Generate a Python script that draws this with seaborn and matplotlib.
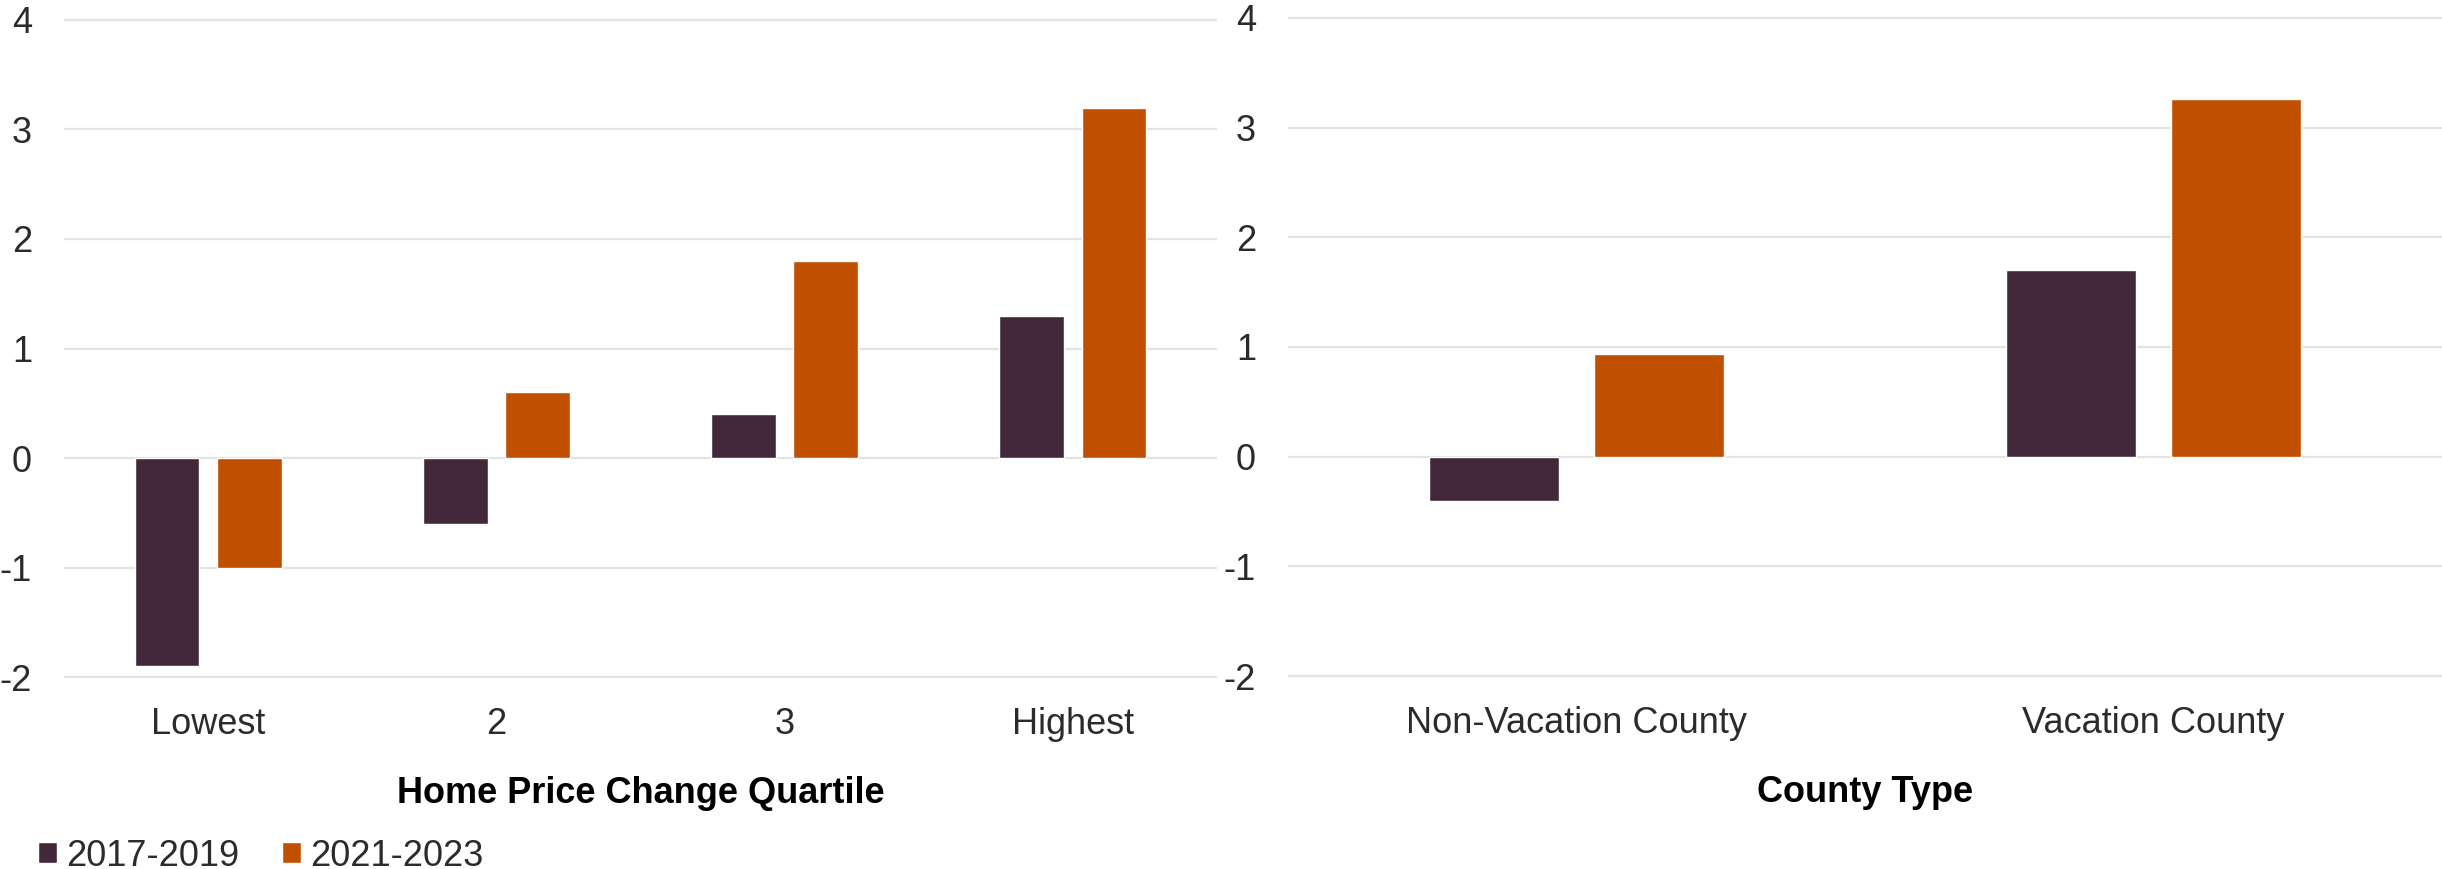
import matplotlib
matplotlib.use("Agg")
import matplotlib.pyplot as plt
import seaborn as sns
import pandas as pd

# Data
periods = ["2017-2019", "2021-2023"]

quartiles = ["Lowest", "2", "3", "Highest"]
quartile_2017_2019 = [-1.9, -0.6, 0.4, 1.3]
quartile_2021_2023 = [-1.0, 0.6, 1.8, 3.2]

county_types = ["Non-Vacation County", "Vacation County"]
county_2017_2019 = [-0.4, 1.7]
county_2021_2023 = [0.94, 3.26]

y_ticks = [-2, -1, 0, 1, 2, 3, 4]

palette = {"2017-2019": "#43283C", "2021-2023": "#C14F00"}
text_color = "#2b2b2b"
grid_color = "#e3e3e3"
FS = 26


def long_frame(cats, a, b):
    return pd.DataFrame({
        "category": cats * 2,
        "period": [periods[0]] * len(cats) + [periods[1]] * len(cats),
        "value": list(a) + list(b),
    })


df_q = long_frame(quartiles, quartile_2017_2019, quartile_2021_2023)
df_c = long_frame(county_types, county_2017_2019, county_2021_2023)

sns.set_theme(style="white")
plt.rcParams["font.family"] = ["Liberation Sans", "DejaVu Sans"]

W, H = 2442, 869
fig = plt.figure(figsize=(W / 100, H / 100), dpi=100)

pad_units = 0.03
ax1 = fig.add_axes([64 / W, 1 - 680.3 / H, 1153 / W, (680.3 - 16.7) / H])
ax2 = fig.add_axes([1288 / W, 1 - 679.3 / H, 1154 / W, (679.3 - 14.7) / H])


def style(ax, data, order, xlabel):
    sns.barplot(data=data, x="category", y="value", hue="period",
                order=order, hue_order=periods, palette=palette,
                width=0.571, gap=0.215, dodge=True, saturation=1,
                errorbar=None, ax=ax, zorder=3)
    ax.set_ylim(-2 - pad_units, 4 + pad_units)
    ax.set_xlim(-0.5, len(order) - 0.5)
    ax.set_yticks(y_ticks)
    ax.set_yticklabels([str(t) for t in y_ticks])
    ax.set_axisbelow(True)
    ax.yaxis.grid(True, color=grid_color, linewidth=1.6)
    ax.xaxis.grid(False)
    for s in ax.spines.values():
        s.set_visible(False)
    ax.tick_params(axis="both", length=0, labelsize=FS, colors=text_color)
    ax.tick_params(axis="y", pad=23)
    ax.tick_params(axis="x", pad=19.5)
    ax.set_ylabel("")
    ax.set_xlabel(xlabel, fontsize=FS, fontweight="bold", color="black",
                  labelpad=24)
    if ax.get_legend() is not None:
        ax.get_legend().remove()


style(ax1, df_q, quartiles, "Home Price Change Quartile")
style(ax2, df_c, county_types, "County Type")

handles, labels = ax1.get_legend_handles_labels()
fig.legend(handles, labels, loc="center left",
           bbox_to_anchor=(38 / W, 1 - 856 / H), ncol=2, frameon=False,
           fontsize=FS, handlelength=0.53, handleheight=0.53,
           handletextpad=0.25, columnspacing=1.17, borderpad=0,
           borderaxespad=0, labelcolor=text_color)

fig.savefig("out.png", dpi=100, facecolor="white")
